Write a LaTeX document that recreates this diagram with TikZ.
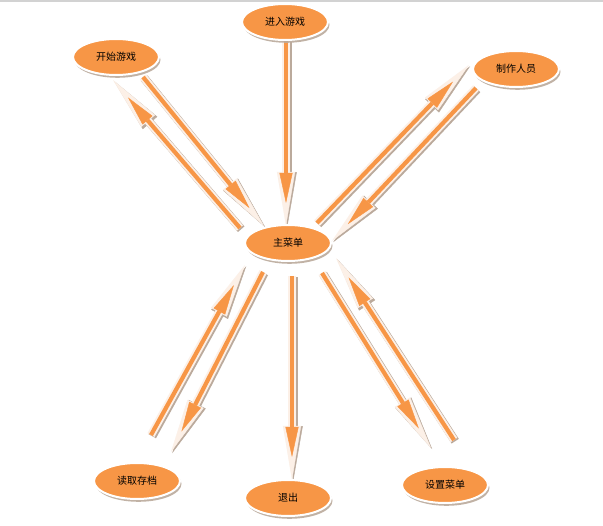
\documentclass[tikz,border=0pt]{standalone}
\usepackage{fontspec}
\newfontfamily\cjk{Noto Sans CJK SC}
\usetikzlibrary{shapes.geometric,arrows.meta,shadows,backgrounds}
\definecolor{org}{HTML}{F79646}
\definecolor{shd}{HTML}{BBAA9C}
\definecolor{rim}{HTML}{FCF0E7}
\tikzset{
  menu/.style={ellipse, fill=org, draw=white, line width=2pt,
    minimum width=86pt, minimum height=36pt, inner sep=0pt,
    font=\cjk\fontsize{10}{11}\selectfont,
    drop shadow={shadow xshift=1.5pt, shadow yshift=-2.8pt, fill=shd, opacity=0.9}},
  arrshadow/.style={draw=shd, line width=8.6pt,
    -{Triangle[length=55pt,width=19pt,line width=0.4pt]},
    transform canvas={shift={(1.2pt,-1.2pt)}}},
  arrrim/.style={draw=rim, line width=8pt,
    -{Triangle[length=54pt,width=18pt,line width=0.4pt]}},
  arrcore/.style={draw=org, line width=4.2pt, shorten >=23pt,
    -{Triangle[length=30pt,width=13pt,line width=0.4pt]}},
}
\newcommand\myarrow[2]{%
  \draw[arrshadow] (#1) -- (#2);
  \draw[arrrim] (#1) -- (#2);
  \draw[arrcore] (#1) -- (#2);}
\begin{document}
\begin{tikzpicture}[x=1pt,y=-1pt]
\useasboundingbox (0,0) rectangle (603,526);

\node[menu] (enter) at (285,22) {进入游戏};
\node[menu] (start) at (116,57) {开始游戏};
\node[menu] (staff) at (516,69) {制作人员};
\node[menu] (main)  at (288,243) {主菜单};
\node[menu] (load)  at (137,481) {读取存档};
\node[menu] (quit)  at (288,498) {退出};
\node[menu] (setup) at (445,485) {设置菜单};

\coordinate (a1s) at (286,41);  \coordinate (a1e) at (286,226);
\coordinate (a2s) at (143,77);  \coordinate (a2e) at (264,226);
\coordinate (a3s) at (240,228); \coordinate (a3e) at (113,80);
\coordinate (a4s) at (317,223); \coordinate (a4e) at (469,65);
\coordinate (a5s) at (476,88);  \coordinate (a5e) at (332,241);
\coordinate (a6s) at (263,272); \coordinate (a6e) at (171,452);
\coordinate (a7s) at (151,435); \coordinate (a7e) at (245,265);
\coordinate (a8s) at (292,276); \coordinate (a8e) at (292,480);
\coordinate (a9s) at (322,273); \coordinate (a9e) at (431,448);
\coordinate (a10s) at (454,440); \coordinate (a10e) at (336,258);

\begin{scope}[on background layer]
\fill[white] (0,0) rectangle (603,526);
\fill[gray!35] (0,0) rectangle (603,2);
\myarrow{a1s}{a1e}
\myarrow{a2s}{a2e}
\myarrow{a3s}{a3e}
\myarrow{a4s}{a4e}
\myarrow{a5s}{a5e}
\myarrow{a6s}{a6e}
\myarrow{a7s}{a7e}
\myarrow{a8s}{a8e}
\myarrow{a9s}{a9e}
\myarrow{a10s}{a10e}
\end{scope}
\end{tikzpicture}
\end{document}
